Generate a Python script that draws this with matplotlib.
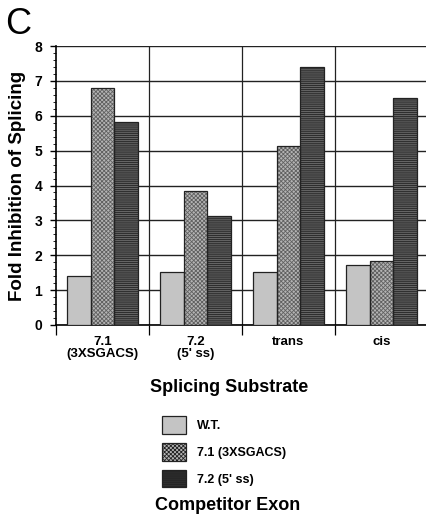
import matplotlib
matplotlib.use("Agg")
import matplotlib.pyplot as plt
import numpy as np
from matplotlib.patches import Patch

categories = ["7.1\n(3XSGACS)", "7.2\n(5' ss)", "trans", "cis"]
series_names = ["W.T.", "7.1 (3XSGACS)", "7.2 (5' ss)"]
wt = [1.41, 1.53, 1.53, 1.72]
s71 = [6.81, 3.83, 5.13, 1.83]
s72 = [5.83, 3.12, 7.39, 6.51]
yticks = [0, 1, 2, 3, 4, 5, 6, 7, 8]

plt.rcParams['font.family'] = ['Liberation Sans', 'DejaVu Sans']
plt.rcParams['font.weight'] = 'bold'
plt.rcParams['hatch.linewidth'] = 0.6

fig = plt.figure(figsize=(4.27, 5.19), dpi=100)
ax = fig.add_axes([56/427, 1-325/519, 372/427, 279/519])

styles = [
    dict(facecolor='#c4c4c4', hatch=None, hatchcolor=None),
    dict(facecolor='#b4b4b4', hatch='xxxxxxxx', hatchcolor='#606060'),
    dict(facecolor='#2e2e2e', hatch='--------', hatchcolor='#707070'),
]
data = [wt, s71, s72]
x = np.arange(len(categories))
w = 0.258
handles = []
for i, (vals, st) in enumerate(zip(data, styles)):
    kw = dict(color=st['facecolor'], linewidth=0, zorder=3)
    if st['hatch']:
        kw['hatch'] = st['hatch']
        kw['edgecolor'] = st['hatchcolor']
    ax.bar(x + (i - 1) * w, vals, w, **kw)
    ax.bar(x + (i - 1) * w, vals, w, fill=False, edgecolor='#222222', linewidth=0.9, zorder=4)
    if st['hatch']:
        h = Patch(facecolor=st['facecolor'], edgecolor=st['hatchcolor'], hatch=st['hatch'], linewidth=0)
    else:
        h = Patch(facecolor=st['facecolor'], edgecolor='#222222', linewidth=0.9)
    handles.append(h)

ax.set_xlim(-0.5, len(categories) - 0.5)
ax.set_ylim(0, 8)
ax.set_yticks(yticks)
ax.set_yticks(np.arange(0, 8.01, 0.2), minor=True)
ax.set_yticklabels([str(t) for t in yticks], fontsize=10, fontweight='bold')
ax.tick_params(axis='y', which='major', length=4, width=1, pad=6)
ax.tick_params(axis='y', which='minor', length=2, width=0.6)
ax.yaxis.grid(True, color='#222222', linewidth=1.0, zorder=0)
for b in np.arange(0.5, len(categories) - 0.5, 1.0):
    ax.axvline(b, color='#222222', linewidth=0.9, zorder=1)
ax.set_xticks(np.arange(-0.5, len(categories), 1.0))
ax.set_xticklabels([])
ax.set_xticks(x, minor=True)
ax.set_xticklabels(categories, minor=True, fontsize=9.5, fontweight='bold', linespacing=1.0)
ax.tick_params(axis='x', which='major', length=7, width=0.9)
ax.tick_params(axis='x', which='minor', length=0, pad=8)
for s in ['top', 'right']:
    ax.spines[s].set_visible(False)
ax.spines['left'].set_linewidth(1.2)
ax.spines['bottom'].set_linewidth(1.2)

ax.set_ylabel("Fold Inhibition of Splicing", fontsize=13.5, fontweight='bold', labelpad=6)
fig.text(229/427, 1-387/519, "Splicing Substrate", ha='center', va='center', fontsize=13, fontweight='bold')
fig.text(5/427, 1-25/519, "C", ha='left', va='center', fontsize=26, fontweight='normal')

leg = fig.legend(handles=handles, labels=series_names, loc='upper left',
           bbox_to_anchor=(151/427, 1-405/519), frameon=False,
           handlelength=1.9, handleheight=1.8, labelspacing=0.72, handletextpad=0.9,
           prop=dict(size=9, weight='bold'))
for p in leg.get_patches():
    p.set_edgecolor('#222222')
    p.set_linewidth(0.9)
fig.text(228/427, 1-506/519, "Competitor Exon", ha='center', va='center', fontsize=13, fontweight='bold')

fig.savefig("out.png", dpi=100)
